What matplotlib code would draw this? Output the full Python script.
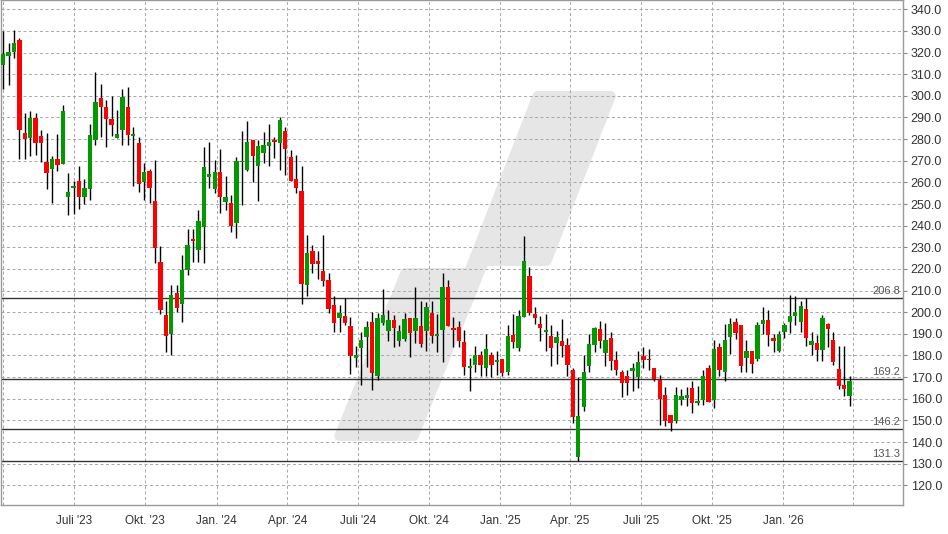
import numpy as np
import pandas as pd
import matplotlib
matplotlib.use('Agg')
import matplotlib.pyplot as plt
import matplotlib.dates as mdates
import matplotlib.transforms as mtransforms
from matplotlib.patches import Polygon

plt.rcParams['font.family'] = ['Liberation Sans', 'DejaVu Sans']

# Wochenkerzen, Montag jeder Woche (Apr. 2023 - Mrz. 2026)
weeks = pd.date_range('2023-04-03', periods=157, freq='W-MON')

opens = [314.3, 318.2, 320.3, 325.7, 282.8, 280.5, 289.7, 281.4, 269.2, 266.2,
         270.8, 268.5, 253.4, 257.4, 260.5, 253.4, 256.9, 279.7, 298.9, 294.8,
         289.2, 280.5, 284.3, 294.8, 281.5, 278.2, 260.2, 265.2, 251.3, 223.2,
         198.6, 190.1, 208.7, 203.8, 219.4, 234.0, 228.9, 239.2, 262.3, 257.1,
         264.9, 250.8, 250.5, 241.2, 269.2, 265.8, 279.7, 267.8, 273.8, 276.6,
         279.7, 278.2, 283.8, 271.8, 261.7, 256.2, 212.6, 228.3, 223.7, 219.1,
         214.8, 203.2, 197.1, 198.3, 193.7, 178.9, 183.5, 188.6, 195.5, 170.6,
         195.2, 191.4, 196.3, 186.8, 187.8, 197.2, 191.1, 193.7, 191.1, 199.5,
         189.2, 191.8, 211.7, 192.5, 193.1, 186.1, 174.1, 175.4, 180.0, 174.1,
         180.0, 176.9, 178.2, 172.3, 189.3, 183.4, 197.8, 216.9, 199.1, 194.7,
         190.9, 188.8, 185.7, 186.5, 184.7, 173.5, 133.1, 156.0, 175.1, 184.7,
         192.1, 181.1, 188.1, 177.7, 172.6, 170.3, 172.8, 170.0, 179.6, 178.6,
         174.0, 168.9, 161.9, 152.6, 149.5, 159.6, 160.2, 165.0, 157.9, 159.6,
         174.1, 159.4, 183.9, 172.3, 188.5, 195.5, 194.0, 178.8, 181.9, 178.5,
         194.7, 196.6, 188.1, 182.0, 190.9, 195.5, 198.4, 195.5, 201.4, 185.0,
         185.9, 182.7, 194.4, 187.3, 173.8, 166.4, 161.4]
highs = [330.0, 324.3, 330.3, 326.6, 292.3, 292.8, 292.0, 284.2, 282.8, 272.3,
         282.3, 295.7, 264.3, 260.5, 267.7, 261.8, 286.9, 311.1, 305.4, 298.0,
         300.0, 293.5, 303.1, 304.2, 285.7, 280.8, 268.9, 266.2, 270.5, 230.5,
         205.0, 212.4, 212.4, 226.6, 238.6, 238.6, 247.1, 276.2, 278.9, 270.5,
         275.5, 263.1, 254.3, 271.7, 283.8, 288.5, 279.7, 279.7, 283.1, 287.1,
         281.2, 290.0, 285.8, 275.1, 272.8, 267.7, 235.5, 230.9, 228.3, 235.5,
         218.0, 207.5, 203.2, 206.5, 197.8, 184.5, 190.9, 196.0, 200.2, 199.8,
         210.6, 200.9, 198.6, 194.2, 199.8, 197.5, 211.8, 205.2, 204.5, 205.1,
         199.1, 218.0, 214.8, 198.0, 196.0, 191.6, 179.0, 184.2, 182.0, 189.8,
         181.6, 182.3, 178.5, 194.0, 199.1, 201.2, 235.0, 221.0, 202.2, 198.1,
         199.1, 194.0, 191.3, 196.7, 188.1, 174.1, 169.9, 180.0, 189.8, 193.2,
         195.8, 194.8, 190.9, 181.9, 173.4, 173.1, 176.6, 181.9, 183.9, 182.8,
         174.0, 171.2, 165.6, 152.6, 165.6, 164.5, 165.3, 168.4, 166.1, 173.1,
         175.4, 187.0, 185.9, 194.7, 197.4, 197.4, 194.0, 187.0, 182.3, 195.4,
         202.2, 201.2, 190.1, 191.3, 195.0, 207.9, 207.6, 205.1, 206.8, 190.9,
         189.6, 198.9, 195.0, 190.9, 184.2, 184.2, 170.7]
lows = [303.1, 305.1, 317.7, 270.8, 270.8, 272.3, 272.8, 269.5, 256.9, 250.5,
        265.4, 268.5, 245.1, 245.4, 247.7, 250.0, 252.0, 277.2, 280.8, 276.5,
        281.5, 280.5, 277.2, 277.2, 258.2, 255.7, 252.0, 250.5, 222.8, 199.1,
        181.4, 180.3, 200.0, 195.4, 217.0, 223.1, 223.1, 222.6, 257.4, 255.0,
        245.8, 247.1, 236.9, 234.2, 249.7, 265.1, 260.0, 251.2, 268.9, 267.7,
        271.5, 265.5, 263.2, 260.5, 255.0, 204.0, 207.5, 218.0, 215.2, 212.2,
        199.8, 190.9, 190.9, 194.2, 171.4, 174.9, 166.3, 174.5, 164.2, 168.6,
        194.0, 186.8, 184.0, 184.5, 186.5, 179.5, 186.0, 184.0, 182.2, 186.0,
        181.4, 176.8, 193.4, 183.7, 183.8, 171.2, 163.8, 172.6, 170.3, 170.7,
        170.0, 171.2, 170.3, 171.2, 183.4, 182.0, 197.8, 198.6, 194.7, 186.7,
        182.0, 175.1, 176.1, 179.2, 170.4, 148.6, 131.3, 154.5, 172.6, 181.6,
        183.4, 175.0, 173.4, 171.2, 160.7, 161.8, 163.8, 164.9, 174.3, 173.5,
        168.1, 147.8, 147.5, 145.2, 148.6, 157.3, 156.5, 153.4, 157.1, 157.3,
        158.3, 155.6, 170.7, 168.1, 180.8, 187.8, 172.3, 172.3, 171.8, 177.6,
        190.1, 184.4, 181.6, 181.6, 188.2, 190.4, 194.3, 190.9, 184.2, 180.0,
        177.4, 177.4, 183.9, 175.4, 164.5, 161.4, 156.8]
closes = [319.2, 320.3, 324.3, 284.3, 280.0, 289.7, 278.2, 278.2, 264.3, 270.8,
          268.2, 293.1, 255.5, 258.3, 253.4, 257.2, 281.8, 297.1, 294.9, 289.2,
          286.5, 282.3, 299.4, 282.0, 282.3, 259.4, 264.6, 257.4, 229.8, 200.9,
          189.0, 207.8, 202.0, 219.5, 231.2, 233.1, 242.0, 266.9, 264.0, 264.9,
          253.1, 253.1, 239.7, 270.0, 270.0, 278.9, 272.0, 276.6, 277.1, 278.9,
          278.9, 288.9, 275.5, 260.5, 257.2, 213.2, 227.2, 222.5, 222.5, 214.5,
          201.7, 194.8, 199.5, 195.2, 179.8, 180.3, 187.2, 193.2, 171.8, 197.4,
          198.9, 196.3, 192.5, 191.1, 196.8, 190.2, 197.2, 185.2, 202.5, 188.8,
          190.0, 211.7, 193.4, 191.6, 186.9, 174.6, 175.1, 180.0, 175.4, 182.8,
          175.7, 178.0, 171.8, 188.8, 186.2, 198.1, 223.8, 199.7, 197.5, 192.7,
          192.0, 183.4, 188.5, 184.4, 175.4, 151.8, 152.1, 172.6, 185.2, 192.7,
          186.7, 187.0, 177.4, 173.1, 167.2, 167.2, 174.1, 177.2, 177.7, 177.7,
          169.2, 159.9, 149.8, 148.6, 161.9, 161.4, 161.9, 157.9, 159.1, 170.7,
          158.3, 182.8, 173.5, 187.0, 194.7, 190.4, 175.1, 181.9, 176.1, 194.0,
          196.6, 189.6, 186.7, 189.8, 194.0, 198.1, 199.9, 202.8, 188.2, 186.5,
          182.7, 197.1, 192.4, 176.9, 165.8, 164.5, 168.0]

support_levels = [206.8, 169.2, 146.2, 131.3]

quarter_starts = pd.to_datetime(['2023-04-01', '2023-07-01', '2023-10-01', '2024-01-01',
                                 '2024-04-01', '2024-07-01', '2024-10-01', '2025-01-01',
                                 '2025-04-01', '2025-07-01', '2025-10-01', '2026-01-01',
                                 '2026-04-01'])
quarter_labels = ['', "Juli '23", "Okt. '23", "Jan. '24", "Apr. '24", "Juli '24",
                  "Okt. '24", "Jan. '25", "Apr. '25", "Juli '25", "Okt. '25",
                  "Jan. '26", '']

W, H = 948, 534
fig = plt.figure(figsize=(W / 100, H / 100), dpi=100)
ax = fig.add_axes([1 / W, (H - 505) / H, 902 / W, 505 / H])

# Wasserzeichen (Bildpixel, y nach unten), Ecken über dicke runde Kontur
px = mtransforms.Affine2D().scale(1 / W, -1 / H).translate(0, 1) + fig.transFigure
mark = [(537.5, 96), (610.7, 96), (546.6, 261), (484, 261), (413.7, 436),
        (339.4, 436), (405.4, 273), (468.6, 273)]
ax.add_patch(Polygon(mark, closed=True, transform=px, facecolor='#e6e6e6',
                     edgecolor='#e6e6e6', linewidth=7.2, joinstyle='round', zorder=0.5))

# Kerzen
x = mdates.date2num(weeks) - 2.5
o = np.array(opens); h = np.array(highs); l = np.array(lows); c = np.array(closes)
up = c >= o
colors = np.where(up, '#009a00', '#ff0000')
body = np.maximum(np.abs(c - o), 0.7)
ax.vlines(x, l, h, color='black', linewidth=1.0, zorder=3)
ax.bar(x, body, bottom=np.minimum(o, c), width=5.6, color=colors, linewidth=0, zorder=4)

# Unterstützungen / Widerstände
for lvl in support_levels:
    ax.axhline(lvl, color='#333333', linewidth=1.0, zorder=2)
    ax.annotate(f'{lvl:.1f}', xy=(1, lvl), xycoords=('axes fraction', 'data'),
                xytext=(-2, 1), textcoords='offset points', ha='right', va='bottom',
                fontsize=8, color='#555555', zorder=2)

ax.set_xlim(mdates.date2num(quarter_starts[0]) - 3.2,
            mdates.date2num(quarter_starts[-1]) + 64.4)
ax.set_ylim(110.9, 344.3)

ax.set_xticks(mdates.date2num(quarter_starts))
ax.set_xticklabels(quarter_labels)
ax.set_yticks(np.arange(120, 341, 10))
ax.yaxis.set_major_formatter(matplotlib.ticker.FormatStrFormatter('%.1f'))
ax.yaxis.tick_right()
ax.tick_params(axis='y', length=3, width=0.8, color='#888888', pad=2.5,
               labelsize=9, labelcolor='#333333')
ax.tick_params(axis='x', length=0, pad=7, labelsize=8.5, labelcolor='#333333')

ax.grid(True, color='#aaaaaa', linewidth=0.72, linestyle=(0, (3, 2.5)), zorder=1)
ax.set_axisbelow(True)
for s in ax.spines.values():
    s.set_color('#999999')
    s.set_linewidth(1)

fig.savefig('out.png', dpi=100)
